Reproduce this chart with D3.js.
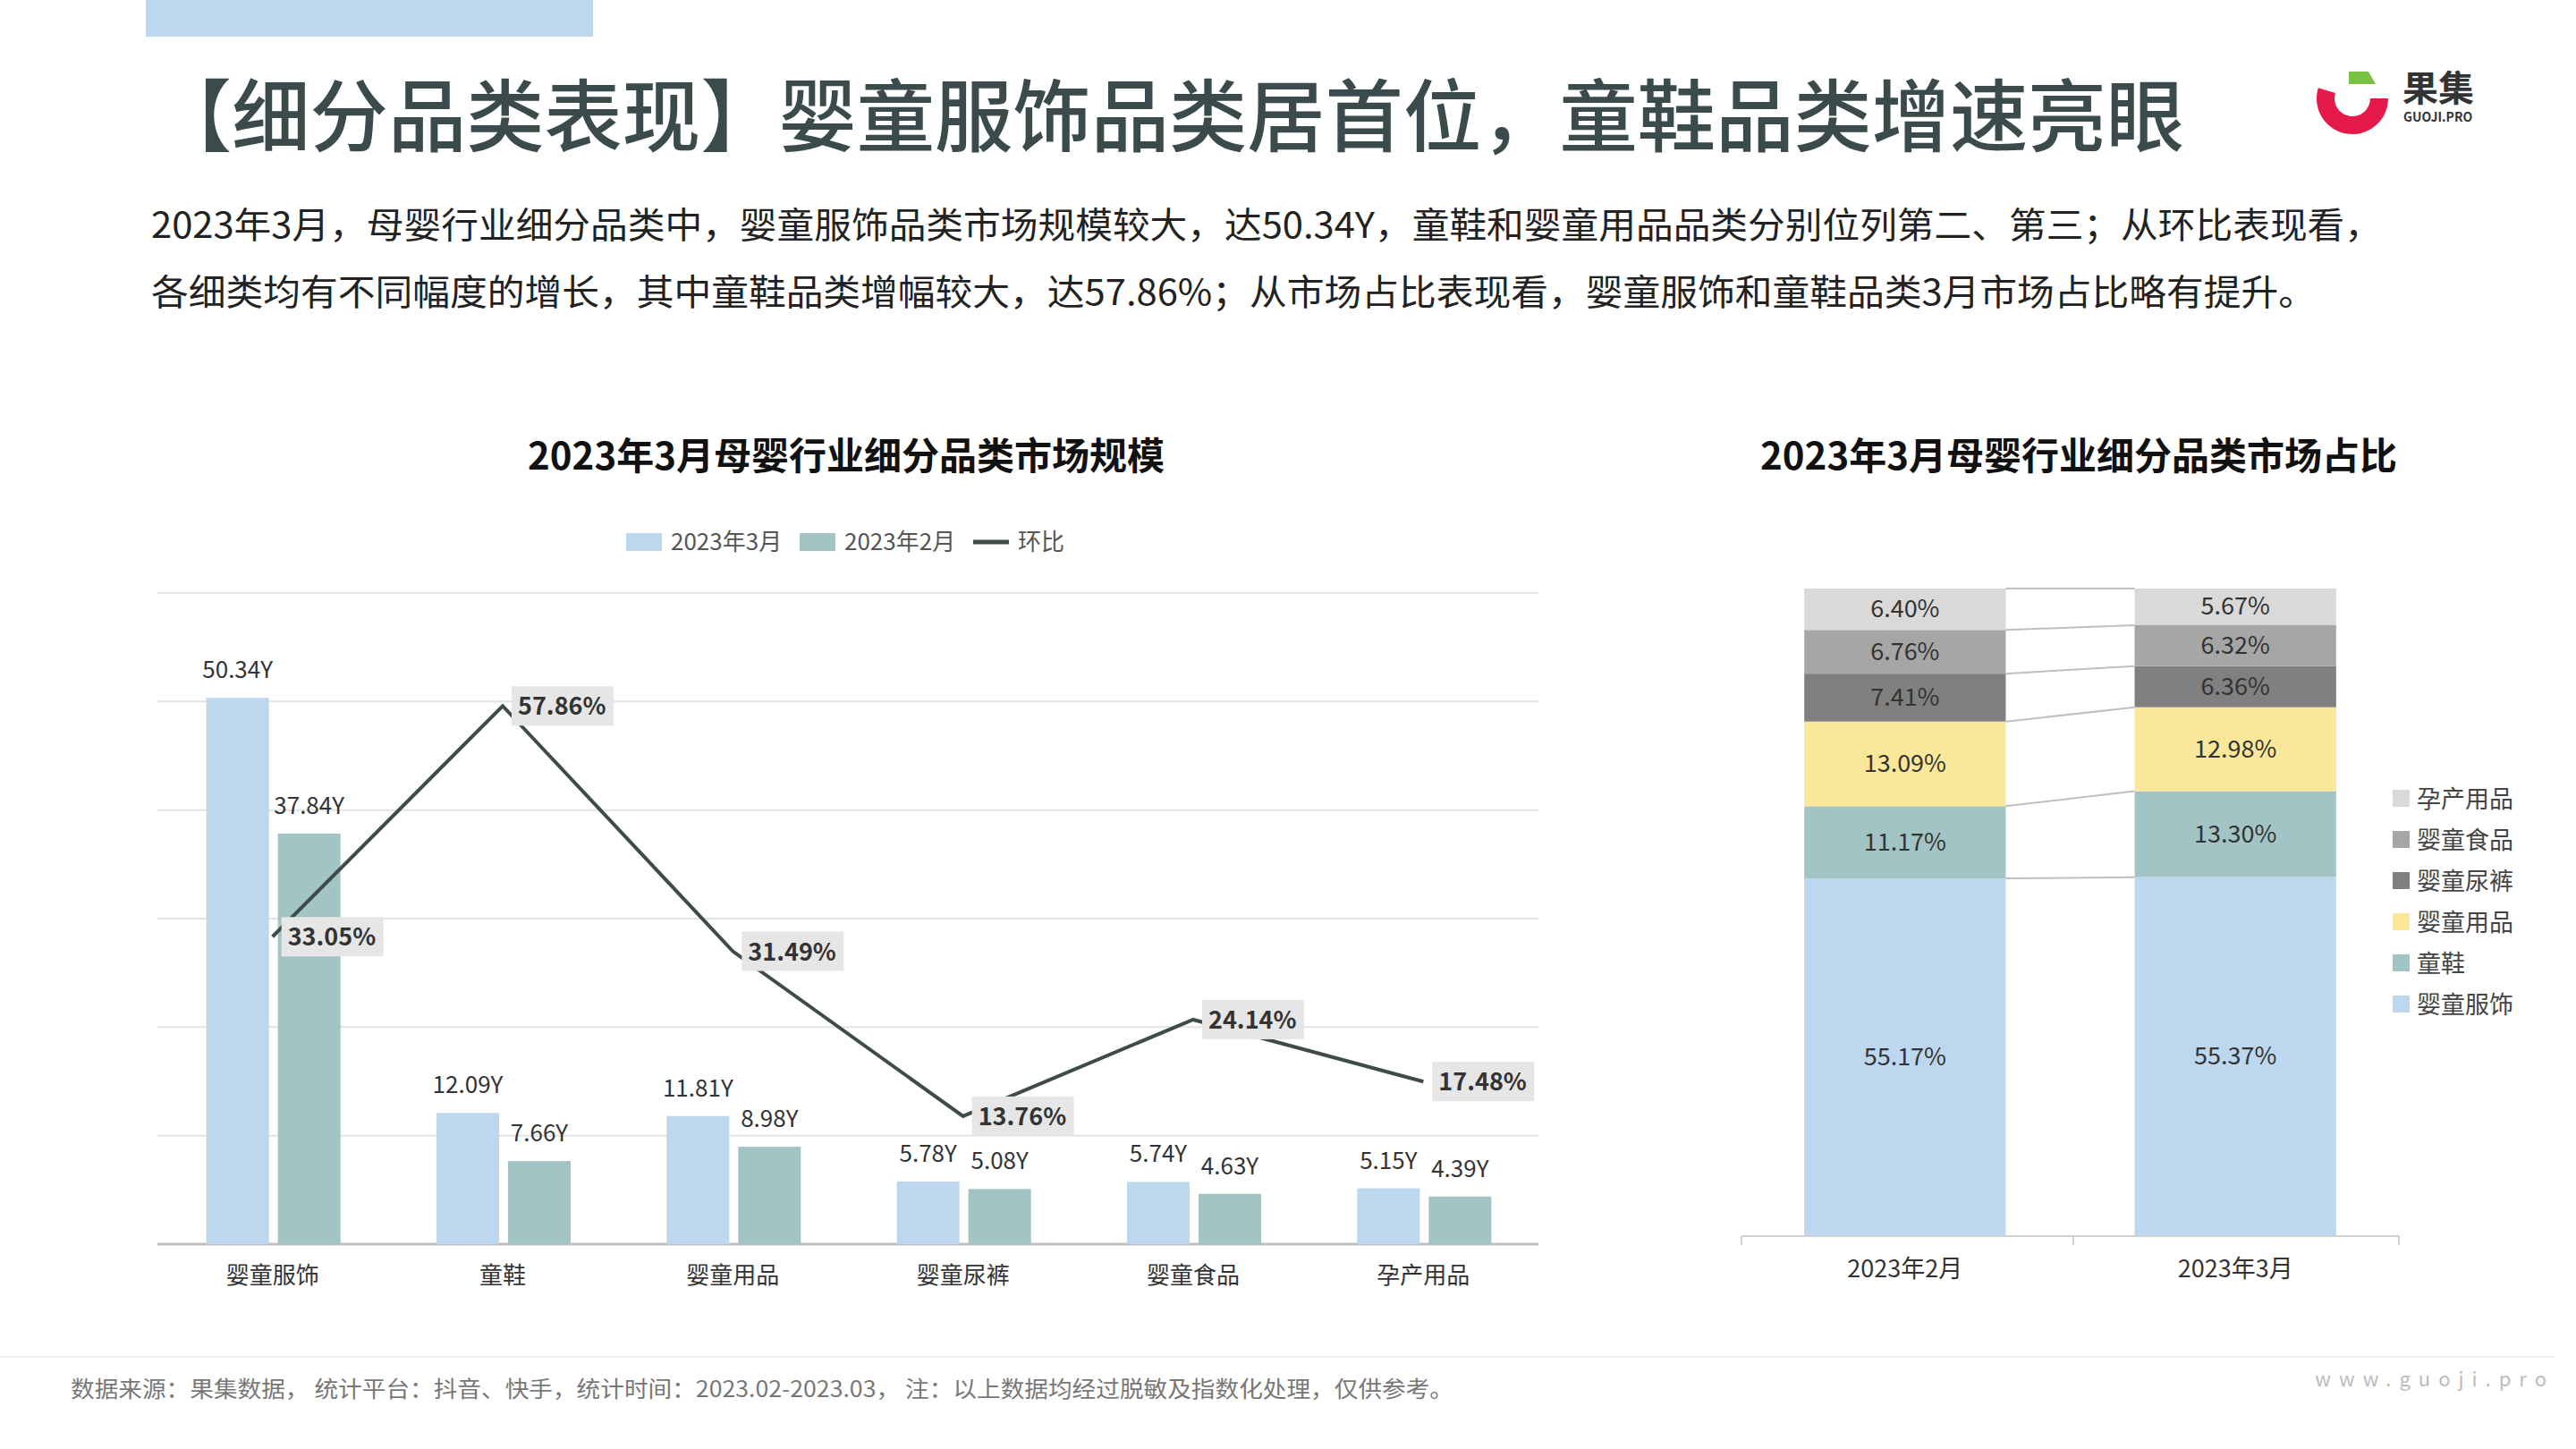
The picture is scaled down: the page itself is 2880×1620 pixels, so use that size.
<!DOCTYPE html>
<html><head><meta charset="utf-8">
<script src="https://cdn.jsdelivr.net/npm/d3@7"></script>
<style>body{margin:0;background:#fff}svg{display:block}text{font-family:"Noto Sans CJK SC","Noto Sans",sans-serif}</style>
</head><body><svg id="c" width="2880" height="1620"></svg>
<script>
const categories=["婴童服饰","童鞋","婴童用品","婴童尿裤","婴童食品","孕产用品"];
const march=[50.34,12.09,11.81,5.78,5.74,5.15];
const feb=[37.84,7.66,8.98,5.08,4.63,4.39];
const mom=[33.05,57.86,31.49,13.76,24.14,17.48];
const yTicks=[0,10,20,30,40,50,60];
const shareMonths=["2023年2月","2023年3月"];
const shareFeb=[55.17,11.17,13.09,7.41,6.76,6.40];
const shareMar=[55.37,13.30,12.98,6.36,6.32,5.67];
const shareColors=["#bdd7ee","#a3c4c4","#f9e79a","#808080","#a6a6a6","#d9d9d9"];

const svg=d3.select("#c");
const dark="#3b4a4a";
svg.append("rect").attr("x",163).attr("y",0).attr("width",500).attr("height",41).attr("fill","#bdd7ee");
svg.append("text").attr("x",172).attr("y",162).attr("font-size",88).attr("font-weight",500).attr("fill",dark)
 .attr("textLength",2270).attr("lengthAdjust","spacingAndGlyphs").text("【细分品类表现】婴童服饰品类居首位，童鞋品类增速亮眼");
const body=["2023年3月，母婴行业细分品类中，婴童服饰品类市场规模较大，达50.34Y，童鞋和婴童用品品类分别位列第二、第三；从环比表现看，",
"各细类均有不同幅度的增长，其中童鞋品类增幅较大，达57.86%；从市场占比表现看，婴童服饰和童鞋品类3月市场占比略有提升。"];
const bodyLen=[2494,2420];
body.forEach((t,i)=>svg.append("text").attr("x",169).attr("y",266+i*75).attr("font-size",40).attr("fill","#222")
 .attr("textLength",bodyLen[i]).attr("lengthAdjust","spacingAndGlyphs").text(t));
// logo
const lg=svg.append("g").attr("transform","translate(2630,110)");
lg.append("path").attr("d",d3.arc()({innerRadius:20,outerRadius:40,startAngle:Math.PI/2,endAngle:Math.PI*1.5+0.3})).attr("fill","#e6194b");
lg.append("path").attr("d","M-4,-30 L18,-30 L26,-16 L-4,-16 Z").attr("fill","#7ac143");
svg.append("text").attr("x",2686).attr("y",113).attr("font-size",40).attr("font-weight",700).attr("fill","#333").text("果集");
svg.append("text").attr("x",2687).attr("y",136).attr("font-size",14).attr("font-weight",700).attr("fill","#333").text("GUOJI.PRO");

// left chart
svg.append("text").attr("x",946).attr("y",525).attr("text-anchor","middle").attr("font-size",42).attr("font-weight",700).attr("fill","#111").text("2023年3月母婴行业细分品类市场规模");
const L={l:176,r:1720,t:663,b:1391};
const x=d3.scaleBand().domain(categories).range([L.l,L.r]);
const y=d3.scaleLinear().domain([0,60]).range([L.b,L.t]);
const y2=d3.scaleLinear().domain([0,70]).range([L.b,L.t]);
svg.append("g").selectAll("line").data(yTicks).join("line").attr("x1",L.l).attr("x2",L.r)
 .attr("y1",d=>y(d)).attr("y2",d=>y(d)).attr("stroke",d=>d===0?"#bfbfbf":"#e3e3e3").attr("stroke-width",d=>d===0?3:2);
const bw=70;
categories.forEach((c,i)=>{
 const cx=x(c)+x.bandwidth()/2;
 const mx=cx-74, fx=cx+6;
 svg.append("rect").attr("x",mx).attr("y",y(march[i])).attr("width",bw).attr("height",y(0)-y(march[i])).attr("fill","#bdd7ee");
 svg.append("rect").attr("x",fx).attr("y",y(feb[i])).attr("width",bw).attr("height",y(0)-y(feb[i])).attr("fill","#a3c4c4");
 svg.append("text").attr("x",mx+bw/2).attr("y",y(march[i])-22).attr("text-anchor","middle").attr("font-size",26).attr("fill","#333").text(march[i].toFixed(2)+"Y");
 svg.append("text").attr("x",fx+bw/2).attr("y",y(feb[i])-22).attr("text-anchor","middle").attr("font-size",26).attr("fill","#333").text(feb[i].toFixed(2)+"Y");
 svg.append("text").attr("x",cx).attr("y",1435).attr("text-anchor","middle").attr("font-size",26).attr("fill","#333").text(c);
});
const line=d3.line().x((d,i)=>x(categories[i])+x.bandwidth()/2).y(d=>y2(d));
svg.append("path").attr("d",line(mom)).attr("fill","none").attr("stroke","#3d4b4b").attr("stroke-width",4);
mom.forEach((v,i)=>{
 const px=x(categories[i])+x.bandwidth()/2+14, py=y2(v);
 const g=svg.append("g");
 g.append("rect").attr("x",px-4).attr("y",py-22).attr("width",114).attr("height",44).attr("fill","#e6e6e6");
 g.append("text").attr("x",px+3).attr("y",py+10).attr("font-size",27).attr("font-weight",700).attr("fill","#333").text(v.toFixed(2)+"%");
});
// legend
const lgd=[["2023年3月","#bdd7ee","r"],["2023年2月","#a3c4c4","r"],["环比","#3d4b4b","l"]];
let lx=700;
lgd.forEach(([t,c,k])=>{
 if(k==="r") svg.append("rect").attr("x",lx).attr("y",596).attr("width",40).attr("height",20).attr("fill",c);
 else svg.append("line").attr("x1",lx).attr("x2",lx+40).attr("y1",606).attr("y2",606).attr("stroke",c).attr("stroke-width",5);
 svg.append("text").attr("x",lx+50).attr("y",615).attr("font-size",26).attr("fill","#555").text(t);
 lx+=50+(k==="r"?144:90);
});

// right chart
svg.append("text").attr("x",2324).attr("y",525).attr("text-anchor","middle").attr("font-size",42).attr("font-weight",700).attr("fill","#111").text("2023年3月母婴行业细分品类市场占比");
const R={b:1381,t:658};
const xs=d3.scaleBand().domain(shareMonths).range([1947,2682]).paddingInner(0.39).paddingOuter(0.19);
const ys=d3.scaleLinear().domain([0,100]).range([R.b,R.t]);
const stacks=[shareFeb,shareMar].map(arr=>{let acc=0;return arr.map(v=>{const s=acc;acc+=v;return[s,acc,v];});});
stacks.forEach((st,j)=>{
 const bx=xs(shareMonths[j]);
 st.forEach(([a,b,v],k)=>{
  svg.append("rect").attr("x",bx).attr("y",ys(b)).attr("width",xs.bandwidth()).attr("height",ys(a)-ys(b)).attr("fill",shareColors[k]);
  svg.append("text").attr("x",bx+xs.bandwidth()/2).attr("y",(ys(a)+ys(b))/2+9).attr("text-anchor","middle").attr("font-size",27).attr("fill","#333").text(v.toFixed(2)+"%");
 });
});
stacks[0].forEach((s,k)=>{
 svg.append("line").attr("x1",xs(shareMonths[0])+xs.bandwidth()).attr("x2",xs(shareMonths[1]))
  .attr("y1",ys(s[1])).attr("y2",ys(stacks[1][k][1])).attr("stroke","#bfbfbf").attr("stroke-width",2);
});
svg.append("line").attr("x1",1947).attr("x2",2682).attr("y1",1382).attr("y2",1382).attr("stroke","#d0d0d0").attr("stroke-width",2);
[1947,2318,2682].forEach(tx=>svg.append("line").attr("x1",tx).attr("x2",tx).attr("y1",1382).attr("y2",1392).attr("stroke","#d0d0d0").attr("stroke-width",2));
shareMonths.forEach(m=>svg.append("text").attr("x",xs(m)+xs.bandwidth()/2).attr("y",1428).attr("text-anchor","middle").attr("font-size",27).attr("fill","#333").text(m));
const legNames=["孕产用品","婴童食品","婴童尿裤","婴童用品","童鞋","婴童服饰"];
legNames.forEach((n,i)=>{
 const k=categories.indexOf(n); const yy=893+i*46;
 svg.append("rect").attr("x",2675).attr("y",yy-10).attr("width",19).attr("height",19).attr("fill",shareColors[k]);
 svg.append("text").attr("x",2702).attr("y",yy+10).attr("font-size",27).attr("fill","#444").text(n);
});

// footer
svg.append("line").attr("x1",0).attr("x2",2856).attr("y1",1517).attr("y2",1517).attr("stroke","#eeeeee").attr("stroke-width",2);
svg.append("text").attr("x",79).attr("y",1562).attr("font-size",25).attr("fill","#777").attr("textLength",1546).attr("lengthAdjust","spacingAndGlyphs").text("数据来源：果集数据，  统计平台：抖音、快手，统计时间：2023.02-2023.03，  注：以上数据均经过脱敏及指数化处理，仅供参考。");
svg.append("text").attr("x",2856).attr("y",1550).attr("text-anchor","end").attr("font-size",22).attr("letter-spacing",9).attr("fill","#bbb").text("www.guoji.pro");
</script></body></html>
